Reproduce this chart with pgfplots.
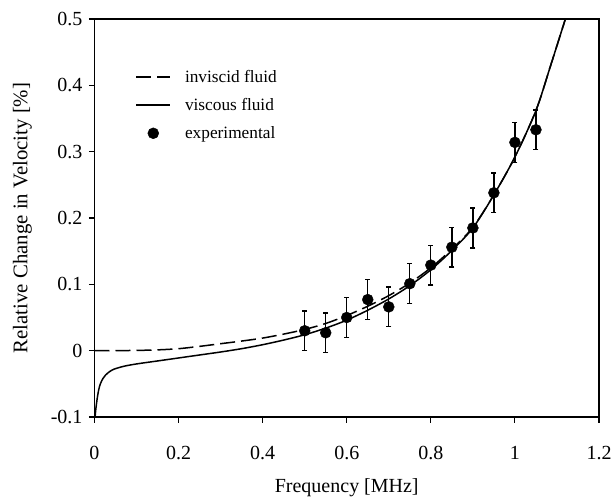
\documentclass[border=0pt]{standalone}
\usepackage{pgfplots}
\pgfplotsset{compat=1.18}
\usepackage{fontspec}
\setmainfont{Liberation Serif}
\pgfplotsset{
  longline legend/.style={legend image code/.code={\draw[##1] (0pt,0pt) -- (34pt,0pt);}},
  longmark legend/.style={legend image code/.code={\draw[mark repeat=2,mark phase=2,##1] plot coordinates {(0pt,0pt) (17pt,0pt) (34pt,0pt)};}},
}
\begin{document}
\begin{tikzpicture}
\begin{axis}[
  scale only axis,
  width=504.5pt, height=398pt,
  xmin=0, xmax=1.2, ymin=-0.1, ymax=0.5,
  xtick={0,0.2,...,1.2}, ytick={-0.1,0,...,0.5},
  xticklabels={0,0.2,0.4,0.6,0.8,1,1.2},
  yticklabels={-0.1,0,0.1,0.2,0.3,0.4,0.5},
  tick align=outside, xtick pos=bottom, ytick pos=left,
  major tick length=5.5pt,
  every tick/.style={black, line width=1.1pt},
  axis line style={line width=1.2pt},
  /pgf/number format/assume math mode=true,
  tick label style={font=\fontsize{20}{24}\selectfont},
  xticklabel style={yshift=-20pt},
  yticklabel style={xshift=-3pt},
  xlabel={Frequency [MHz]},
  ylabel={Relative Change in Velocity [\%]},
  every axis x label/.style={at={(axis description cs:0.5,0)}, yshift=-71pt, anchor=center, font=\fontsize{20}{24}\selectfont},
  every axis y label/.style={at={(axis description cs:0,0.5)}, xshift=-72pt, rotate=90, anchor=center, font=\fontsize{20.8}{24}\selectfont},
  legend style={draw=none, fill=none, at={(axis description cs:0.075,0.882)}, anchor=north west,
    font=\fontsize{17.3}{20}\selectfont, row sep=10.5pt,
    /tikz/every odd column/.style={column sep=12pt}},
  legend cell align=left,
]
\addplot[black, line width=1.5pt, dash pattern=on 15pt off 6pt, smooth, longline legend]
coordinates {
(0,0) (0.05,0.0001) (0.1,0.0004) (0.15,0.0012) (0.2,0.003) (0.25,0.0065)
(0.3,0.0105) (0.35,0.0145) (0.4,0.019) (0.45,0.025) (0.5,0.032) (0.55,0.041)
(0.6,0.053) (0.65,0.067) (0.7,0.083) (0.75,0.102) (0.8,0.125) (0.85,0.153)
(0.9,0.186) (0.95,0.235) (1.0,0.292) (1.05,0.362) (1.085,0.43) (1.12,0.5) (1.13,0.52)
};
\addlegendentry{inviscid fluid}
\addplot[black, line width=1.5pt, smooth, longline legend]
coordinates {
(0.0015,-0.1) (0.003,-0.089) (0.006,-0.074) (0.01,-0.059) (0.014,-0.050)
(0.02,-0.042) (0.026,-0.037) (0.035,-0.032) (0.046,-0.028) (0.07,-0.0235)
(0.1,-0.020) (0.15,-0.0155) (0.2,-0.011) (0.25,-0.0065) (0.3,-0.002)
(0.35,0.003) (0.4,0.009) (0.45,0.016) (0.5,0.024) (0.55,0.034) (0.6,0.046)
(0.65,0.061) (0.7,0.078) (0.75,0.098) (0.8,0.122) (0.85,0.151) (0.9,0.185)
(0.95,0.235) (1.0,0.292) (1.05,0.362) (1.085,0.43) (1.12,0.5) (1.13,0.52)
};
\addlegendentry{viscous fluid}
\addplot[black, only marks, mark=*, mark size=5.5pt, longmark legend,
  error bars/.cd, y dir=both, y explicit,
  error bar style={line width=1.3pt},
  error mark options={rotate=90, mark size=2.5pt, line width=1.3pt}]
coordinates {
(0.50,0.030) +- (0,0.03)
(0.55,0.027) +- (0,0.03)
(0.60,0.050) +- (0,0.03)
(0.65,0.077) +- (0,0.03)
(0.70,0.066) +- (0,0.03)
(0.75,0.101) +- (0,0.03)
(0.80,0.129) +- (0,0.03)
(0.85,0.156) +- (0,0.03)
(0.90,0.185) +- (0,0.03)
(0.95,0.238) +- (0,0.03)
(1.00,0.314) +- (0,0.03)
(1.05,0.333) +- (0,0.03)
};
\addlegendentry{experimental}
\end{axis}
\pgfresetboundingbox
\path ([shift={(-94.5pt,-79pt)}]current axis.south west) rectangle ([shift={(16pt,19pt)}]current axis.north east);
\end{tikzpicture}
\end{document}
